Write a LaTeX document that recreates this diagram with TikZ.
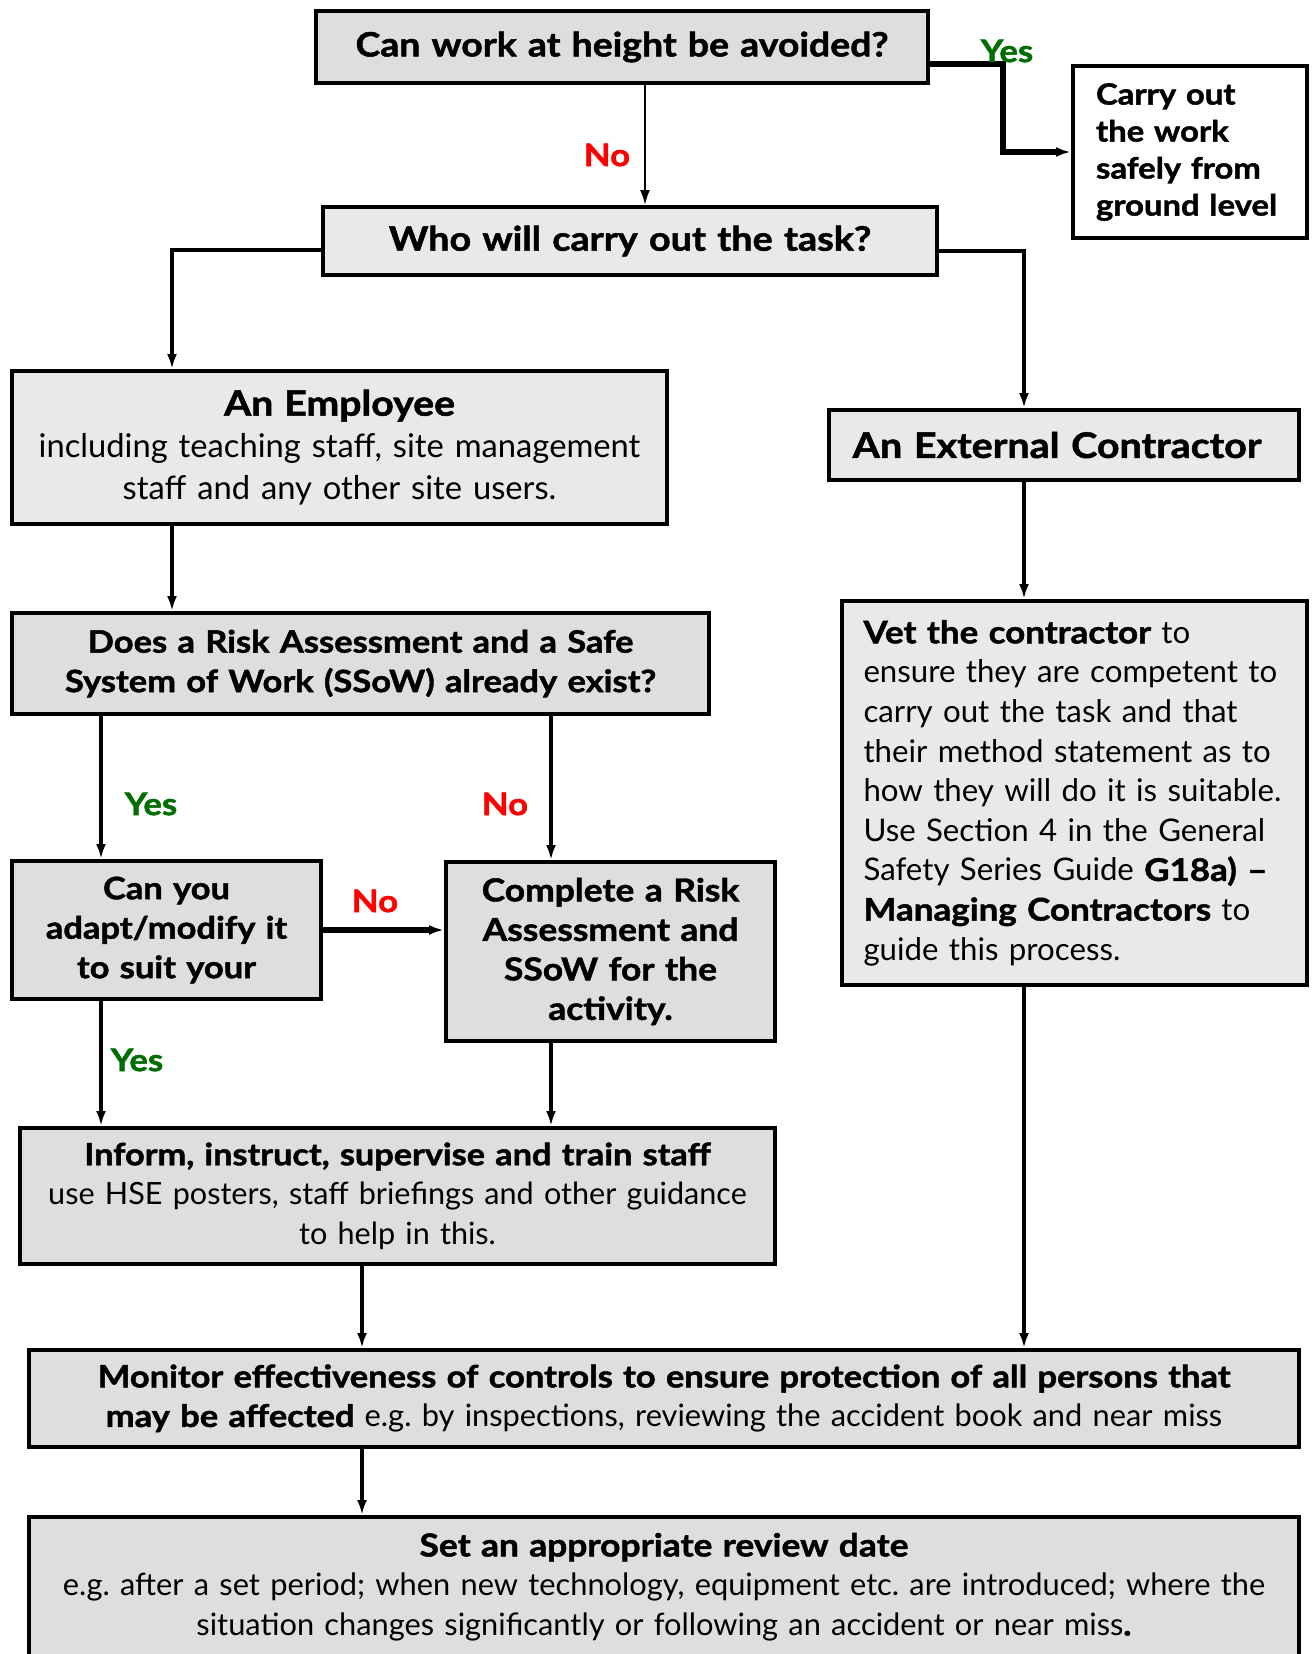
\documentclass[tikz,border=0pt]{standalone}
\usepackage{fontspec}
\setmainfont{Lato}[BoldFeatures={FakeStretch=1.12,FakeBold=1.5}]
\usetikzlibrary{arrows.meta,calc}
\definecolor{fillA}{HTML}{DEDEDE}
\definecolor{fillB}{HTML}{E9E9E9}
\definecolor{yesgreen}{HTML}{006E00}
\definecolor{nored}{HTML}{FF0000}
\newcommand\fsz[2]{\fontsize{#1}{#2}\selectfont}
\frenchspacing
\begin{document}
\begin{tikzpicture}[x=1pt,y=-1pt,
  fbox/.style={draw=black,line width=4pt,fill=fillA,inner sep=0pt,align=center,font=\fsz{30.8}{39.5}},
  conn/.style={draw=black,line width=3.5pt,-{Latex[length=15pt,width=10pt]}},
  thinconn/.style={conn,line width=2pt},
  thickconn/.style={conn,line width=5.5pt},
  lab/.style={font=\fsz{31}{39.5}\bfseries,inner sep=0pt}]
\useasboundingbox (0,0) rectangle (1314,1654);
\clip (0,0) rectangle (1314,1654);
\fill[white] (0,0) rectangle (1314,1654);

% nodes
\node[fbox,font=\fsz{33.4}{39.5},minimum width=612pt,minimum height=72pt,text width=600pt] (q1) at (622,47)
  {\bfseries Can work at height be avoided?};
\node[fbox,fill=white,font=\fsz{29.3}{37},minimum width=234pt,minimum height=172pt,text width=188pt,align=left] (carry) at (1190,152)
  {\bfseries Carry out\\the work\\safely from\\ground level};
\node[fbox,fill=fillB,font=\fsz{33.7}{39.5},minimum width=614pt,minimum height=68pt,text width=600pt] (q2) at (630,241)
  {\bfseries Who will carry out the task?};
\node[fbox,fill=fillB,font=\fsz{32.7}{42},minimum width=655pt,minimum height=153pt,text width=645pt] (emp) at (339.5,447.5)
  {{\fsz{35}{42}\bfseries An Employee}\\including teaching staff, site management\\staff and any other site users.};
\node[fbox,fill=fillB,font=\fsz{35.2}{39.5},minimum width=470pt,minimum height=70pt,text width=465pt] (ext) at (1064,445)
  {\hspace*{-14pt}\bfseries An External Contractor};
\node[fbox,minimum width=697pt,minimum height=101pt,text width=690pt] (exist) at (360.5,663.5)
  {\bfseries Does a Risk Assessment and a Safe\\\bfseries System of Work (SSoW) already exist?};
\node[fbox,minimum width=309pt,minimum height=138pt,text width=305pt] (adapt) at (166.5,930)
  {\bfseries Can you\\\bfseries adapt/modify it\\\bfseries to suit your};
\node[fbox,font=\fsz{31.6}{39.5},minimum width=329pt,minimum height=179pt,text width=325pt] (complete) at (610.5,951.5)
  {\bfseries Complete a Risk\\\bfseries Assessment and\\\bfseries SSoW for the\\\bfseries activity.};
\node[fbox,fill=fillB,font=\fsz{31.2}{39.6},minimum width=465pt,minimum height=384pt,text width=422pt,align=left] (vet) at (1074.5,793)
  {{\bfseries Vet the contractor} to\\ensure they are competent to\\carry out the task and that\\their method statement as to\\how they will do it is suitable.\\Use Section 4 in the General\\Safety Series Guide {\bfseries G18a) --}\\{\bfseries Managing Contractors} to\\guide this process.};
\node[fbox,font=\fsz{30.6}{39.5},minimum width=755pt,minimum height=136pt,text width=745pt] (inform) at (397.5,1196)
  {{\bfseries Inform, instruct, supervise and train staff}\\use HSE posters, staff briefings and other guidance\\to help in this.};
\node[fbox,minimum width=1270pt,minimum height=97pt,text width=1262pt] (monitor) at (664,1398.5)
  {{\bfseries Monitor effectiveness of controls to ensure protection of all persons that}\\{\bfseries may be affected} e.g. by inspections, reviewing the accident book and near miss};
\node[fbox,minimum width=1270pt,minimum height=140pt,text width=1262pt] (review) at (664,1587)
  {{\fsz{31.6}{39.5}\bfseries Set an appropriate review date}\\e.g. after a set period; when new technology, equipment etc. are introduced; where the\\situation changes significantly or following an accident or near miss{\bfseries .}};

% connector columns
\coordinate (cNo) at (645,0);
\coordinate (cE) at (172,0);
\coordinate (cR) at (1024,0);
\coordinate (cL) at (101,0);
\coordinate (cM) at (551,0);
\coordinate (cC) at (362,0);

% connectors
\draw[thinconn] (q1.south -| cNo) -- (q2.north -| cNo);
\draw[thickconn] ($(q1.east)+(0,17)$) -- ++(73,0) |- (carry.west);
\draw[conn] ($(q2.west)+(0,9)$) -| (emp.north -| cE);
\draw[conn] ($(q2.east)+(0,10)$) -| (ext.north -| cR);
\draw[conn] (emp.south -| cE) -- (exist.north -| cE);
\draw[conn] (ext.south -| cR) -- (vet.north -| cR);
\draw[conn] (exist.south -| cL) -- (adapt.north -| cL);
\draw[conn] (exist.south -| cM) -- (complete.north -| cM);
\draw[thickconn] (adapt.east) -- (complete.west |- adapt.east);
\draw[conn] (adapt.south -| cL) -- (inform.north -| cL);
\draw[conn] (complete.south -| cM) -- (inform.north -| cM);
\draw[conn] (inform.south -| cC) -- (monitor.north -| cC);
\draw[conn] (vet.south -| cR) -- (monitor.north -| cR);
\draw[conn] (monitor.south -| cC) -- (review.north -| cC);

% labels
\node[lab,text=yesgreen] (l1) at (1007,51) {Yes};
\node[lab,text=nored] (l2) at (607,155) {No};
\node[lab,text=yesgreen] (l3) at (151,804) {Yes};
\node[lab,text=nored] (l4) at (505,804) {No};
\node[lab,text=nored] (l5) at (375,901) {No};
\node[lab,text=yesgreen] (l6) at (137,1060) {Yes};
\end{tikzpicture}
\end{document}
